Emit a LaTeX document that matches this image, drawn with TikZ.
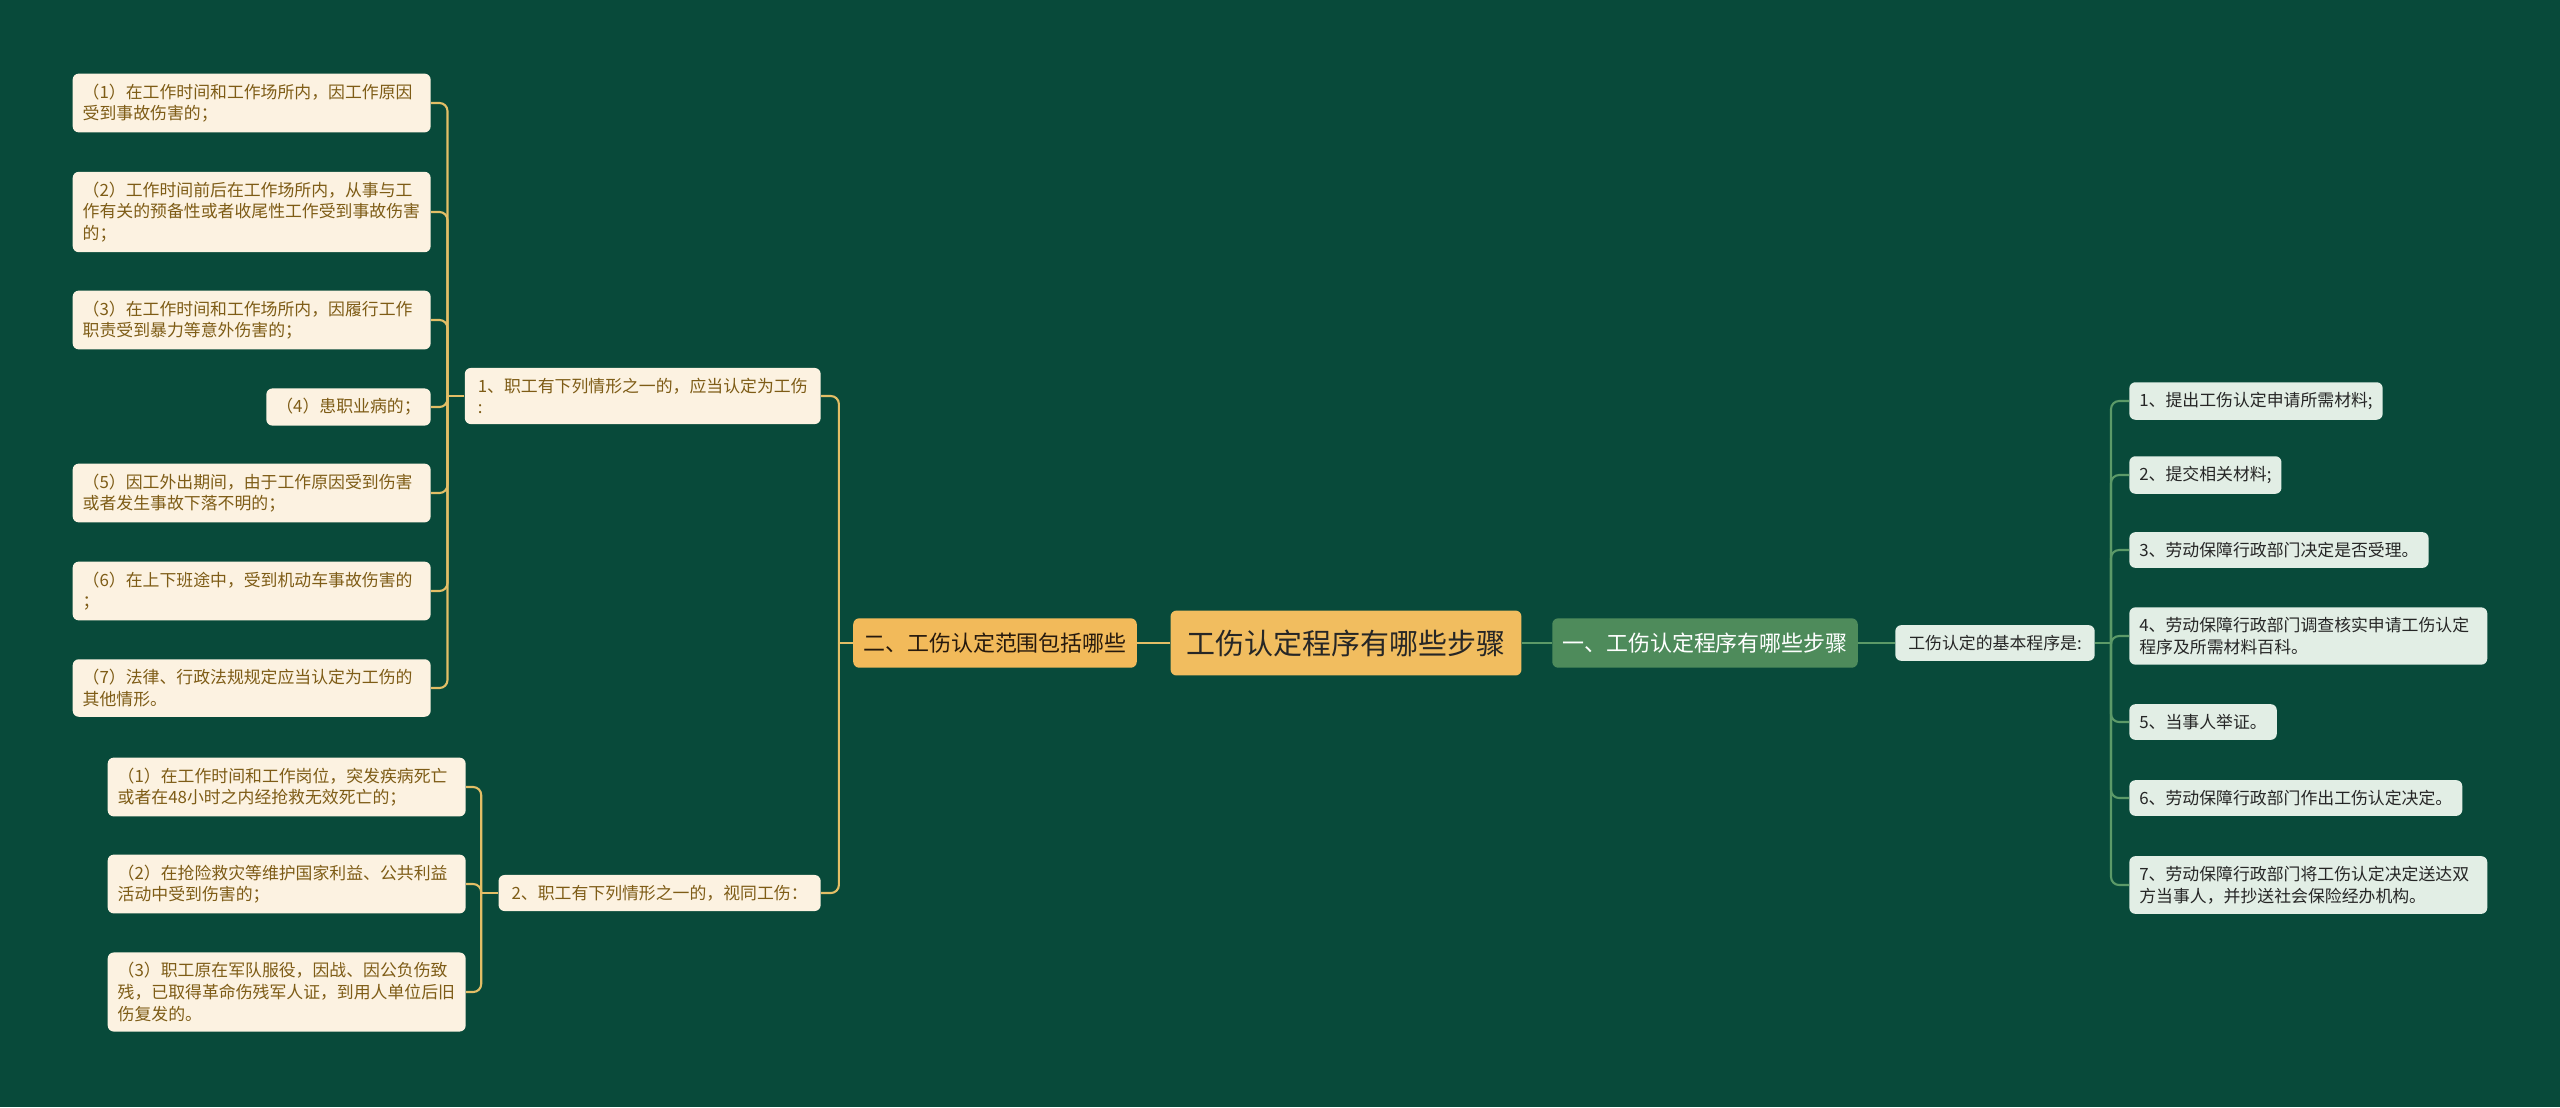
\documentclass[tikz,border=0pt]{standalone}
\usepackage{fontspec}
\setmainfont{Noto Sans CJK SC}
\usepackage{tikz}
\usetikzlibrary{calc}
\definecolor{bgdark}{HTML}{084A3A}
\definecolor{gelap}{HTML}{E3BE66}
\definecolor{hijau}{HTML}{5C9A68}
\definecolor{krem}{HTML}{FCF2E1}
\definecolor{coklat}{HTML}{7E5C16}
\definecolor{kuning}{HTML}{F1BD5F}
\definecolor{abu}{HTML}{E2EEE5}
\definecolor{daun}{HTML}{4E8B5B}

\begin{document}
\begin{tikzpicture}[
    x=0.02cm, y=-0.02cm,
    daunkiri/.style={fill=krem, text=coklat, rounded corners=0.12cm, anchor=east,
                     align=left, inner xsep=0.2cm, inner ysep=0.2cm,
                     font=\fontsize{9.6}{12.3}\selectfont},
    daunkanan/.style={fill=abu, text=black!85, rounded corners=0.12cm, anchor=west,
                      align=left, inner xsep=0.2cm, inner ysep=0.2cm,
                      font=\fontsize{9.6}{12.3}\selectfont},
    lebar/.style={text width=6.76cm},
    pendek/.style={},
    cabang/.style={rounded corners=0.12cm, inner xsep=0.2cm, inner ysep=0.29cm,
                   font=\fontsize{12.5}{15}\selectfont},
    garisk/.style={draw=gelap, line width=1.2pt, rounded corners=0.16cm},
    garish/.style={draw=hijau, line width=1.2pt, rounded corners=0.16cm}
  ]
    \fill[bgdark] (0,0) rectangle (2560,1107);
    \useasboundingbox (0,0) rectangle (2560,1107);

    % pusat dan cabang utama
    \node[fill=kuning, text=black!85, rounded corners=0.12cm, inner xsep=0.32cm,
          inner ysep=0.38cm, font=\fontsize{16.5}{20}\selectfont] (pusat) at (1346,643)
      {工伤认定程序有哪些步骤};
    \node[cabang, fill=kuning!95!orange, text=black!80!brown] (kiri) at (995,643)
      {二、工伤认定范围包括哪些};
    \node[cabang, fill=daun, text=white] (kanan) at (1705,643)
      {一、工伤认定程序有哪些步骤};
    \node[fill=abu, text=black!85, rounded corners=0.12cm, inner xsep=0.26cm,
          inner ysep=0.2cm, font=\fontsize{9.6}{12.3}\selectfont] (dasar) at (1995,643)
      {工伤认定的基本程序是:};

    % sisi kanan
    \foreach \n/\y/\opsi/\teks in {
        1/401/pendek/{1、提出工伤认定申请所需材料;},
        2/475/pendek/{2、提交相关材料;},
        3/550/pendek/{3、劳动保障行政部门决定是否受理。},
        4/636/lebar/{4、劳动保障行政部门调查核实申请工伤认定\\程序及所需材料百科。},
        5/722/pendek/{5、当事人举证。},
        6/798/pendek/{6、劳动保障行政部门作出工伤认定决定。},
        7/885/lebar/{7、劳动保障行政部门将工伤认定决定送达双\\方当事人，并抄送社会保险经办机构。}}
      \node[daunkanan, \opsi] (r\n) at (2129,\y) {\teks};

    % sisi kiri
    \node[daunkiri, inner xsep=0.26cm] (m1) at (821,396)
      {1、职工有下列情形之一的，应当认定为工伤\\:};
    \node[daunkiri, inner xsep=0.26cm] (m2) at (821,893)
      {2、职工有下列情形之一的，视同工伤：};
    \foreach \n/\y/\opsi/\teks in {
        1/103/lebar/{（1）在工作时间和工作场所内，因工作原因\\受到事故伤害的；},
        2/212/lebar/{（2）工作时间前后在工作场所内，从事与工\\作有关的预备性或者收尾性工作受到事故伤害\\的；},
        3/320/lebar/{（3）在工作时间和工作场所内，因履行工作\\职责受到暴力等意外伤害的；},
        4/407/pendek/{（4）患职业病的；},
        5/493/lebar/{（5）因工外出期间，由于工作原因受到伤害\\或者发生事故下落不明的；},
        6/591/lebar/{（6）在上下班途中，受到机动车事故伤害的\\；},
        7/688/lebar/{（7）法律、行政法规规定应当认定为工伤的\\其他情形。}}
      \node[daunkiri, \opsi] (a\n) at (431,\y) {\teks};
    \foreach \n/\y/\teks in {
        1/787/{（1）在工作时间和工作岗位，突发疾病死亡\\或者在48小时之内经抢救无效死亡的；},
        2/884/{（2）在抢险救灾等维护国家利益、公共利益\\活动中受到伤害的；},
        3/992/{（3）职工原在军队服役，因战、因公负伤致\\残，已取得革命伤残军人证，到用人单位后旧\\伤复发的。}}
      \node[daunkiri, lebar] (b\n) at (466,\y) {\teks};

    % titik simpul
    \coordinate (jr) at ($(dasar.east)+(16,0)$);
    \coordinate (jl) at ($(kiri.west)+(-14,0)$);
    \coordinate (ja) at ($(m1.west)+(-17,0)$);
    \coordinate (jb) at ($(m2.west)+(-17,0)$);

    % garis penghubung
    \draw[garisk] (pusat.west) -- (kiri.east);
    \draw[garish] (pusat.east) -- (kanan.west);
    \draw[garish] (kanan.east) -- (dasar.west);
    \draw[garish] (dasar.east) -- (jr);
    \foreach \n in {1,...,7}
      \draw[garish] (jr) |- (r\n.west);
    \draw[garisk] (kiri.west) -- (jl);
    \draw[garisk] (jl) |- (m1.east);
    \draw[garisk] (jl) |- (m2.east);
    \draw[garisk] (m1.west) -- (ja);
    \foreach \n in {1,...,7}
      \draw[garisk] (ja) |- (a\n.east);
    \draw[garisk] (m2.west) -- (jb);
    \foreach \n in {1,2,3}
      \draw[garisk] (jb) |- (b\n.east);
  \end{tikzpicture}
\end{document}
